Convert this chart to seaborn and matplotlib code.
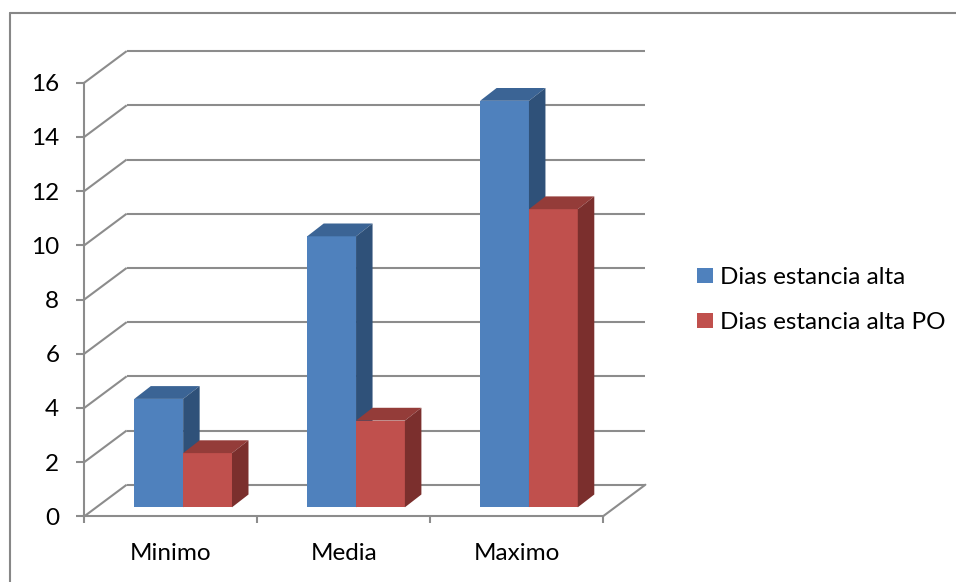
import matplotlib
matplotlib.use("Agg")
import matplotlib.pyplot as plt
import numpy as np
import pandas as pd
import seaborn as sns
from matplotlib.patches import Polygon
from matplotlib.lines import Line2D
from matplotlib.colors import to_hex

# ---- data ----
categories = ["Minimo", "Media", "Maximo"]
series_names = ["Dias estancia alta", "Dias estancia alta PO"]
dias_alta = [4, 10, 15]
dias_alta_po = [2, 3.2, 11]
y_ticks = [0, 2, 4, 6, 8, 10, 12, 14, 16]

front_colors = ["#4F81BD", "#C0504D"]
top_colors = ["#3B6495", "#943C39"]
side_colors = ["#2F5179", "#7B2F2D"]
grid_color = "#8C8C8C"

df = pd.DataFrame({
    "cat": categories * 2,
    "serie": [series_names[0]] * len(categories) + [series_names[1]] * len(categories),
    "val": dias_alta + dias_alta_po,
})

sns.set_theme(style="white")
plt.rcParams["font.family"] = ["Lato", "DejaVu Sans"]
plt.rcParams["text.color"] = "black"
FS = 17.5

W, H = 956, 582
fig = plt.figure(figsize=(W / 100, H / 100), dpi=100)

# bar plane geometry (pixels, image coords)
x0, x1 = 96.7, 615.4
y0 = 507.3
ppu = 27.1
ymax = 16
ux = (x1 - x0) / 3.0

ax = fig.add_axes([x0 / W, (H - y0) / H, (x1 - x0) / W, ymax * ppu / H])
ax.patch.set_alpha(0)

sns.barplot(data=df, x="cat", y="val", hue="serie", order=categories,
            hue_order=series_names, palette=front_colors, saturation=1,
            width=0.565, ax=ax, linewidth=0, edgecolor="none", zorder=3)
ax.set_xlim(-0.5, 2.5)
ax.set_ylim(0, ymax)


def d(dxp, dyp):
    """pixel offset (image y down) -> data offset"""
    return dxp / ux, -dyp / ppu


fdx, fdy = d(-12.4, 9.0)
bdx, bdy = d(30.0, -22.6)
ddx, ddy = d(16.5, -12.8)

# back wall gridlines + left wall diagonals + floor
for v in y_ticks:
    ax.plot([-0.5 + fdx, -0.5 + bdx], [v + fdy, v + bdy], color=grid_color,
            lw=1.5, clip_on=False, zorder=1, solid_capstyle="butt")
    ax.plot([-0.5 + bdx, 2.5 + bdx], [v + bdy, v + bdy], color=grid_color,
            lw=1.5, clip_on=False, zorder=1, solid_capstyle="butt")
ax.plot([2.5 + fdx, 2.5 + bdx], [fdy, bdy], color=grid_color, lw=1.5,
        clip_on=False, zorder=1)

# 3D faces of the bars
fc_hex = [c.lower() for c in front_colors]
for p in ax.patches:
    k = fc_hex.index(to_hex(p.get_facecolor()).lower())
    x, w, h = p.get_x(), p.get_width(), p.get_height()
    z = 3 + k
    p.set_zorder(z)
    top = Polygon([(x, h), (x + w, h), (x + w + ddx, h + ddy), (x + ddx, h + ddy)],
                  closed=True, facecolor=top_colors[k], edgecolor="none",
                  zorder=z + 0.1, clip_on=False)
    side = Polygon([(x + w, 0), (x + w + ddx, ddy), (x + w + ddx, h + ddy), (x + w, h)],
                   closed=True, facecolor=side_colors[k], edgecolor="none",
                   zorder=z + 0.1, clip_on=False)
    ax.add_patch(top)
    ax.add_patch(side)

ax.set_axis_off()

sns.move_legend(ax, "center left", bbox_to_anchor=(697 / W, (H - 300) / H),
                bbox_transform=fig.transFigure, frameon=False, title=None,
                fontsize=FS, handlelength=0.64, handleheight=0.59,
                handletextpad=0.32, labelspacing=1.0, borderpad=0,
                borderaxespad=0)

# front plane axes (value axis + category axis)
axf = fig.add_axes([(x0 - 12.4) / W, (H - (y0 + 9.0)) / H, (x1 - x0) / W, ymax * ppu / H])
axf.patch.set_alpha(0)
axf.set_xlim(-0.5, 2.5)
axf.set_ylim(0, ymax)
for s in ["top", "right"]:
    axf.spines[s].set_visible(False)
for s in ["left", "bottom"]:
    axf.spines[s].set_color(grid_color)
    axf.spines[s].set_linewidth(1.5)
axf.set_yticks(y_ticks)
axf.set_yticklabels([str(t) for t in y_ticks])
axf.set_xticks(range(len(categories)))
axf.set_xticklabels(categories)
axf.set_xticks([-0.5, 0.5, 1.5, 2.5], minor=True)
axf.tick_params(axis="y", left=True, length=5.5, width=1.5, color=grid_color,
                direction="out", pad=12.5, labelsize=FS, labelcolor="black")
axf.tick_params(axis="x", which="major", bottom=True, length=0, pad=19,
                labelsize=FS, labelcolor="black")
axf.tick_params(axis="x", which="minor", bottom=True, length=5, width=1.5,
                color=grid_color, direction="out")

# outer chart border
fig.add_artist(Line2D([9.5 / W, 9.5 / W], [0, (H - 13) / H], transform=fig.transFigure,
                      color="#878787", lw=1.5))
fig.add_artist(Line2D([9.5 / W, 1], [(H - 13) / H, (H - 13) / H], transform=fig.transFigure,
                      color="#878787", lw=1.5))

fig.savefig("out.png", dpi=100)
